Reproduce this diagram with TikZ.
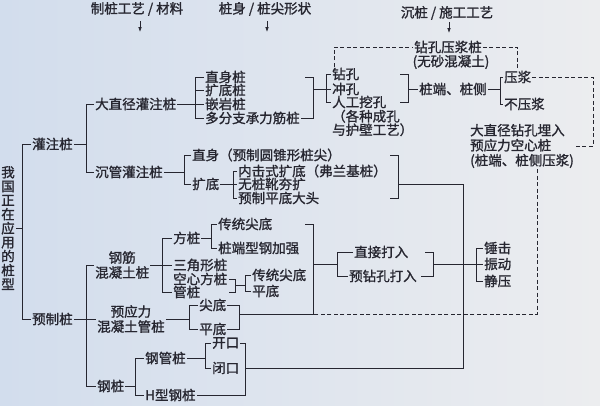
\documentclass[tikz,border=0pt]{standalone}
\usepackage{fontspec}
\setmainfont{Noto Sans CJK SC}[AutoFakeBold=1.3]
\usetikzlibrary{arrows.meta}
\usetikzlibrary{calc}
\tikzset{>={Latex[width=3.5pt,length=5pt]}}
\definecolor{ink}{RGB}{38,38,48}
\definecolor{bgl}{RGB}{210,221,237}
\definecolor{bgr}{RGB}{236,237,239}

\begin{document}
\begin{tikzpicture}[x=1pt,y=-1pt,
  lbl/.style={anchor=west,inner sep=1pt,text=ink,font=\fontsize{13.5}{15}\selectfont\bfseries},
  ln/.style={draw=ink,line width=0.9pt},
  dsh/.style={ln,dash pattern=on 4pt off 2.5pt}]

  \shade[left color=bgl,right color=bgr] (0,0) rectangle (600,405);
  \useasboundingbox (0,0) rectangle (600,405);

  % bracket columns
  \coordinate (c1) at (22,0);
  \coordinate (c2) at (86,0);
  \coordinate (c3) at (195,0);
  \coordinate (cm) at (313,0);
  \coordinate (c5) at (326,0);
  \coordinate (c6) at (408,0);
  \coordinate (c7) at (500,0);
  \coordinate (c8) at (184,0);
  \coordinate (c9) at (233,0);
  \coordinate (c10) at (398,0);
  \coordinate (c11) at (463,0);
  \coordinate (c12) at (162,0);
  \coordinate (c13) at (211,0);
  \coordinate (c17) at (235,0);
  \coordinate (c18) at (245,0);
  \coordinate (c19) at (189,0);
  \coordinate (c20) at (239,0);
  \coordinate (c21) at (337,0);
  \coordinate (c22) at (433,0);
  \coordinate (c23) at (476,0);
  \coordinate (c24) at (135,0);
  \coordinate (c25) at (205,0);
  \coordinate (ck2) at (245,0);
  \coordinate (cr) at (593,0);
  \coordinate (cd) at (537,0);

  % headers
  \node[lbl,anchor=center] (h1) at (137,9) {制桩工艺 / 材料};
  \node[lbl,anchor=center] (h2) at (265,9) {桩身 / 桩尖形状};
  \node[lbl,anchor=center] (h3) at (447,13) {沉桩 / 施工工艺};
  \draw[ln,line width=0.7pt,->] (h1.south) ++(3,4) -- ++(0,11);
  \draw[ln,line width=0.7pt,->] (h2.south) ++(2,4) -- ++(0,11);
  \draw[ln,line width=0.7pt,->] (h3.south) ++(2,1) -- ++(0,11);

  % tree
  \node[lbl,anchor=center,align=center,font=\fontsize{13.5}{14}\selectfont\bfseries] (root) at (8,228) {我\\国\\正\\在\\应\\用\\的\\桩\\型};
  \node[lbl] (gzz) at (31,144) {灌注桩};
  \node[lbl] (yzz) at (31,319) {预制桩};

  \node[lbl] (dzj) at (94,104) {大直径灌注桩};
  \node[lbl] (cgz) at (94,172) {沉管灌注桩};
  \node[lbl] (zsz) at (204,77) {直身桩};
  \node[lbl] (kdz) at (204,90) {扩底桩};
  \node[lbl] (qyz) at (204,104) {嵌岩桩};
  \node[lbl] (dfz) at (204,118) {多分支承力筋桩};

  \node[lbl] (zk) at (331,74) {钻孔};
  \node[lbl] (ck) at (331,89) {冲孔};
  \node[lbl] (rgwk) at (331,102) {人工挖孔};
  \node[lbl,align=left,font=\fontsize{13.5}{13.5}\selectfont\bfseries] (gzck) at (331,123) {（各种成孔\\与护壁工艺）};
  \node[lbl,anchor=center] (zyjz) at (448,47) {钻孔压浆桩};
  \node[lbl,anchor=center] (wsh) at (451,62) {(无砂混凝土)};
  \node[lbl] (zdzc) at (418,89) {桩端、桩侧};
  \node[lbl] (yj) at (503,77) {压浆};
  \node[lbl] (byj) at (503,104) {不压浆};
  \node[lbl,align=left] (djmr) at (469,146) {大直径钻孔埋入\\预应力空心桩\\(桩端、桩侧压浆)};

  \node[lbl] (zs) at (191,155) {直身（预制圆锥形桩尖）};
  \node[lbl] (kd) at (191,184) {扩底};
  \node[lbl] (njs) at (237,171) {内击式扩底（弗兰基桩）};
  \node[lbl] (wzx) at (237,184) {无桩靴夯扩};
  \node[lbl] (yzpd) at (237,198) {预制平底大头};

  \node[lbl,align=center] (gjhnt) at (94,265) {钢筋\\混凝土桩};
  \node[lbl] (fz) at (172,238) {方桩};
  \node[lbl] (sjx) at (172,265) {三角形桩};
  \node[lbl] (kxfz) at (172,279) {空心方桩};
  \node[lbl] (gz) at (172,292) {管桩};
  \node[lbl] (ctjd) at (217,224) {传统尖底};
  \node[lbl] (zdxg) at (217,248) {桩端型钢加强};
  \node[lbl] (ctjd2) at (251,275) {传统尖底};
  \node[lbl] (pd2) at (251,291) {平底};

  \node[lbl,align=center] (yyl) at (96,319) {预应力\\混凝土管桩};
  \node[lbl] (jd) at (198,305) {尖底};
  \node[lbl] (pd) at (198,329) {平底};

  \node[lbl] (gangz) at (96,386) {钢桩};
  \node[lbl] (ggz) at (144,358) {钢管桩};
  \node[lbl] (hxgz) at (144,395) {H型钢桩};
  \node[lbl] (kk) at (211,343) {开口};
  \node[lbl] (bk) at (211,368) {闭口};

  \node[lbl] (zjdr) at (353,252) {直接打入};
  \node[lbl] (yzkdr) at (348,276) {预钻孔打入};
  \node[lbl] (cj) at (483,248) {锤击};
  \node[lbl] (zd) at (483,264) {振动};
  \node[lbl] (jy) at (483,281) {静压};

  % root and 灌注桩
  \draw[ln] (gzz.west) -- (gzz.west -| c1) -- (yzz.west -| c1) -- (yzz.west);
  \draw[ln] (root.east) -- (root.east -| c1);
  \draw[ln] (gzz.east) -- (gzz.east -| c2);
  \draw[ln] (dzj.west) -- (dzj.west -| c2) -- (cgz.west -| c2) -- (cgz.west);

  \draw[ln] (dzj.east) -- (qyz.west);
  \draw[ln] (zsz.west) -- (zsz.west -| c3) -- (dfz.west -| c3) -- (dfz.west);
  \draw[ln] (kdz.west) -- (kdz.west -| c3);
  \draw[ln] (zsz.east -| cm) ++(-8,0) -- ++(8,0) -- (dfz.east -| cm) -- (dfz.east);
  \draw[ln] (ck.west -| cm) -- (ck.west);
  \draw[ln] (zk.west) -- (zk.west -| c5) -- (rgwk.west -| c5) -- (rgwk.west);
  \draw[ln] (zk.east -| c6) ++(-8,0) -- ++(8,0) -- (rgwk.east -| c6) -- ++(-8,0);
  \draw[ln] (ck.east -| c6) -- (zdzc.west);
  \draw[ln] (zdzc.east) -- (zdzc.east -| c7);
  \draw[ln] (yj.west) -- (yj.west -| c7) -- (byj.west -| c7) -- (byj.west);

  \draw[ln] (cgz.east) -- (cgz.east -| c8);
  \draw[ln] (zs.west) -- (zs.west -| c8) -- (kd.west -| c8) -- (kd.west);
  \draw[ln] (kd.east) -- (wzx.west);
  \draw[ln] (njs.west) -- (njs.west -| c9) -- (yzpd.west -| c9) -- (yzpd.west);
  \draw[ln] (zs.east -| c10) ++(-8,0) -- ++(8,0) -- (yzpd.east -| c10) -- ++(-8,0);
  \draw[ln] (wzx.east -| c10) -- (wzx.east -| c11) -- (bk.east -| c11) -- (bk.east -| ck2);

  % 预制桩
  \draw[ln] (gjhnt.west) -- (gjhnt.west -| c2) -- (gangz.west -| c2) -- (gangz.west);
  \draw[ln] (gjhnt.east) -- (sjx.west);
  \draw[ln] (fz.west) -- (fz.west -| c12) -- (gz.west -| c12) -- (gz.west);
  \draw[ln] (fz.east) -- (fz.east -| c13);
  \draw[ln] (ctjd.west) -- (ctjd.west -| c13) -- (zdxg.west -| c13) -- (zdxg.west);
  \draw[ln] (kxfz.east -| c17) ++(-6,0) -- ++(6,0) -- (gz.east -| c17) -- ++(-6,0);
  \coordinate (sm) at ($(kxfz.east -| c17)!0.5!(gz.east -| c17)$);
  \draw[ln] (sm) -- (sm -| c18);
  \draw[ln] (ctjd2.west) -- (ctjd2.west -| c18) -- (pd2.west -| c18) -- (pd2.west);

  \draw[ln] (yzz.east) -- (yyl.west);
  \draw[ln] (yyl.east) -- (yyl.east -| c19);
  \draw[ln] (jd.west) -- (jd.west -| c19) -- (pd.west -| c19) -- (pd.west);
  \draw[ln] (jd.east) -- (jd.east -| c20) -- (pd.east -| c20) -- (pd.east);
  \coordinate (jpm) at ($(jd.east -| c20)!0.4!(pd.east -| c20)$);
  \draw[ln] (jpm) -- (jpm -| cm);
  \draw[ln] (ctjd.east -| cm) ++(-8,0) -- ++(8,0) -- (jpm -| cm);

  \coordinate (dm) at ($(zjdr.west -| c21)!0.5!(yzkdr.west -| c21)$);
  \draw[ln] (dm -| cm) -- (dm);
  \draw[ln] (zjdr.west) -- (zjdr.west -| c21) -- (yzkdr.west -| c21) -- (yzkdr.west);
  \draw[ln] (zjdr.east -| c22) ++(-8,0) -- ++(8,0) -- (yzkdr.east -| c22) -- ++(-12,0);
  \draw[ln] (zd.west -| c22) -- (zd.west);
  \draw[ln] (cj.west) -- (cj.west -| c23) -- (jy.west -| c23) -- (jy.west);

  \draw[ln] (gangz.east) -- (gangz.east -| c24);
  \draw[ln] (ggz.west) -- (ggz.west -| c24) -- (hxgz.west -| c24) -- (hxgz.west);
  \draw[ln] (ggz.east) -- (ggz.east -| c25);
  \draw[ln] (kk.west) -- (kk.west -| c25) -- (bk.west -| c25) -- (bk.west);
  \draw[ln] (kk.east) -- (kk.east -| ck2) -- (hxgz.east -| ck2) -- (hxgz.east);

  % dashed links
  \draw[dsh] (zk.north west) ++(3,0) |- (zyjz.west);
  \draw[dsh] (zyjz.east) -| (yj.north);
  \draw[dsh] (yj.east) -- (yj.east -| cr) |- (djmr.east);
  \draw[dsh] (djmr.south -| cd) -- (jpm -| cd) -- (jpm -| cm);

\end{tikzpicture}
\end{document}
